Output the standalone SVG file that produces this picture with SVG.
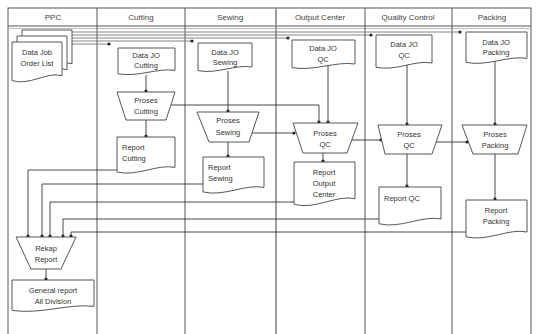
<svg xmlns="http://www.w3.org/2000/svg" width="536" height="334" viewBox="0 0 536 334">
<style>
.lane{stroke:#555;stroke-width:1;fill:none}
.shape{fill:#fff;stroke:#444;stroke-width:0.9}
.c{fill:none;stroke:#333;stroke-width:0.9;marker-end:url(#dot)}
.b{fill:none;stroke:#777;stroke-width:0.9;marker-end:url(#dot)}
.t{font-family:"Liberation Sans",Arial,sans-serif;font-size:7.5px;fill:#333}
.m{text-anchor:middle}
.h{font-family:"Liberation Sans",Arial,sans-serif;font-size:8px;fill:#444;text-anchor:middle}
</style>
<defs>
<marker id="dot" markerWidth="4" markerHeight="4" refX="2" refY="2" markerUnits="userSpaceOnUse"><circle cx="2" cy="2" r="1.6" fill="#222"/></marker>
</defs>
<rect width="536" height="334" fill="#fff"/>
<g id="lanes">
<rect x="8" y="8" width="523" height="330" class="lane"/>
<line x1="8" y1="26" x2="531" y2="26" class="lane"/>
<line x1="8" y1="28.5" x2="531" y2="28.5" stroke="#aaa" stroke-width="0.8"/>
<line x1="97" y1="8" x2="97" y2="334" class="lane"/>
<line x1="185" y1="8" x2="185" y2="334" class="lane"/>
<line x1="276" y1="8" x2="276" y2="334" stroke="#888" stroke-width="1.6"/>
<line x1="365" y1="8" x2="365" y2="334" class="lane"/>
<line x1="452" y1="8" x2="452" y2="334" class="lane"/>
<text class="h" x="53" y="20">PPC</text>
<text class="h" x="141" y="20">Cutting</text>
<text class="h" x="230" y="20">Sewing</text>
<text class="h" x="320" y="20">Output Center</text>
<text class="h" x="408" y="20">Quality Control</text>
<text class="h" x="492" y="20">Packing</text>
</g>
<g id="connectors">
<polyline class="b" points="72,32 460,32"/>
<polyline class="b" points="72,35 371,35"/>
<polyline class="b" points="72,38 288,38"/>
<polyline class="b" points="72,41 192,41"/>
<polyline class="b" points="72,44 109,44"/>
<polyline class="c" points="146,75 146,91"/>
<polyline class="c" points="146,120 146,136"/>
<polyline class="c" points="171,105 319,105 319,122"/>
<polyline class="c" points="228,71 228,111"/>
<polyline class="c" points="252,133 294,133"/>
<polyline class="c" points="228,142 228,156"/>
<polyline class="c" points="328,65 328,122"/>
<polyline class="c" points="323,153 323,161"/>
<polyline class="c" points="352,140 381,140"/>
<polyline class="c" points="407,64 407,124"/>
<polyline class="c" points="407,154 407,186"/>
<polyline class="c" points="436,142 467,142"/>
<polyline class="c" points="495,61 495,124"/>
<polyline class="c" points="495,154 495,199"/>
<polyline class="c" points="117,170 28,170 28,236"/>
<polyline class="c" points="203,184 42,184 42,236"/>
<polyline class="c" points="294,202 50,202 50,236"/>
<polyline class="c" points="379,219 63,219 63,236"/>
<polyline class="c" points="466,232 71,232 71,236"/>
<polyline class="c" points="46,269 46,279"/>
</g>
<g id="data-job-order-list">
<path class="shape" d="M22,30 H72 V63.6 C57,59.4 39.5,74.1 22,68.6 Z"/>
<path class="shape" d="M17,36 H67 V69.6 C52,65.4 34.5,80.1 17,74.6 Z"/>
<path class="shape" d="M12,42 H62 V75.6 C47,71.4 29.5,86.1 12,80.6 Z"/>
<text class="t m" x="37" y="55">Data Job</text>
<text class="t m" x="37" y="66">Order List</text>
</g>
<g id="data-jo-cutting">
<path class="shape" d="M118,48 H175 V70.4 C157.9,67.6 138,77.4 118,73.8 Z"/>
<text class="t m" x="146" y="58">Data JO</text>
<text class="t m" x="146" y="68">Cutting</text>
</g>
<g id="proses-cutting">
<polygon class="shape" points="117,92 175,92 166,120 126,120"/>
<text class="t m" x="146" y="103">Proses</text>
<text class="t m" x="146" y="114">Cutting</text>
</g>
<g id="report-cutting">
<path class="shape" d="M117,137 H175 V167.4 C157.6,163.6 137.3,176.9 117,172 Z"/>
<text class="t" x="122" y="150">Report</text>
<text class="t" x="122" y="161">Cutting</text>
</g>
<g id="data-jo-sewing">
<path class="shape" d="M198,43 H252 V67 C235.8,64 216.9,74.5 198,70.6 Z"/>
<text class="t m" x="225" y="55">Data JO</text>
<text class="t m" x="225" y="65">Sewing</text>
</g>
<g id="proses-sewing">
<polygon class="shape" points="197,112 259,112 249,142 209,142"/>
<text class="t m" x="228" y="123">Proses</text>
<text class="t m" x="228" y="135">Sewing</text>
</g>
<g id="report-sewing">
<path class="shape" d="M203,157 H264 V187.4 C245.7,183.6 224.4,196.9 203,192 Z"/>
<text class="t" x="208" y="170">Report</text>
<text class="t" x="208" y="181">Sewing</text>
</g>
<g id="data-jo-qc-output">
<path class="shape" d="M292,40 H355 V64 C336.1,61 314,71.5 292,67.6 Z"/>
<text class="t m" x="323" y="51">Data JO</text>
<text class="t m" x="323" y="62">QC</text>
</g>
<g id="proses-qc-output">
<polygon class="shape" points="293,123 358,123 347,153 303,153"/>
<text class="t m" x="325" y="136">Proses</text>
<text class="t m" x="325" y="147">QC</text>
</g>
<g id="report-output-center">
<path class="shape" d="M294,162 H355 V198.8 C336.7,194.2 315.4,210.3 294,204.3 Z"/>
<text class="t m" x="324" y="175">Report</text>
<text class="t m" x="324" y="186">Output</text>
<text class="t m" x="324" y="197">Center</text>
</g>
<g id="data-jo-qc">
<path class="shape" d="M376,35 H432 V63 C415.2,59.5 395.6,71.75 376,67.2 Z"/>
<text class="t m" x="404" y="47">Data JO</text>
<text class="t m" x="404" y="58">QC</text>
</g>
<g id="proses-qc">
<polygon class="shape" points="378,125 442,125 432,154 385,154"/>
<text class="t m" x="409" y="137">Proses</text>
<text class="t m" x="409" y="148">QC</text>
</g>
<g id="report-qc">
<path class="shape" d="M379,187 H441 V219 C422.4,215 400.7,229 379,223.8 Z"/>
<text class="t" x="384" y="201">Report QC</text>
</g>
<g id="data-jo-packing">
<path class="shape" d="M466,32 H527 V58.4 C508.7,55.1 487.4,66.7 466,62.4 Z"/>
<text class="t m" x="496" y="45">Data JO</text>
<text class="t m" x="496" y="55">Packing</text>
</g>
<g id="proses-packing">
<polygon class="shape" points="462,125 527,125 518,154 473,154"/>
<text class="t m" x="495" y="137">Proses</text>
<text class="t m" x="495" y="148">Packing</text>
</g>
<g id="report-packing">
<path class="shape" d="M466,200 H527 V232 C508.7,228 487.4,242 466,236.8 Z"/>
<text class="t m" x="496" y="213">Report</text>
<text class="t m" x="496" y="224">Packing</text>
</g>
<g id="rekap-report">
<polygon class="shape" points="16,237 76,237 61,269 31,269"/>
<text class="t m" x="46" y="251">Rekap</text>
<text class="t m" x="46" y="262">Report</text>
</g>
<g id="general-report">
<path class="shape" d="M12,280 H94 V306.4 C69.4,303.1 40.7,314.7 12,310.4 Z"/>
<text class="t m" x="53" y="293">General report</text>
<text class="t m" x="53" y="304">All Division</text>
</g>
</svg>
